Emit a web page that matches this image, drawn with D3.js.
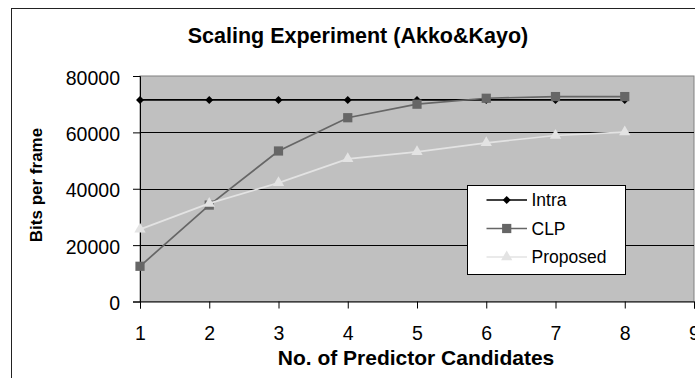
<!DOCTYPE html>
<html>
<head>
<meta charset="utf-8">
<script src="https://cdn.jsdelivr.net/npm/d3@7"></script>
<style>
  html, body { margin: 0; padding: 0; background: #fff; }
  svg { display: block; }
  text { font-family: "Liberation Sans", Arial, sans-serif; }
</style>
</head>
<body>
<svg id="chart" width="695" height="378"></svg>
<script>
// ---- data ----
const categories = [1, 2, 3, 4, 5, 6, 7, 8];
const xTicks = [1, 2, 3, 4, 5, 6, 7, 8, 9];
const yTicks = [0, 20000, 40000, 60000, 80000];
const intra = [71500, 71500, 71500, 71500, 71500, 71500, 71500, 71500];
const clp = [12500, 34200, 53400, 65200, 70000, 72100, 72700, 72700];
const proposed = [25600, 34800, 42100, 50600, 53100, 56300, 58900, 60100];
const seriesNames = ["Intra", "CLP", "Proposed"];
const titleText = "Scaling Experiment (Akko&Kayo)";
const xTitle = "No. of Predictor Candidates";
const yTitle = "Bits per frame";

const svg = d3.select("#chart");
const plot = { left: 140, right: 694, top: 76, bottom: 301.5 };

const x = d3.scaleLinear().domain([1, 9]).range([plot.left, plot.right]);
const y = d3.scaleLinear().domain([0, 80000]).range([plot.bottom, plot.top]);

// outer chart frame
svg.append("rect")
  .attr("x", 11.5).attr("y", 8.5)
  .attr("width", 800).attr("height", 500)
  .attr("fill", "#fff").attr("stroke", "#222").attr("stroke-width", 1);

// plot area background
svg.append("rect")
  .attr("x", plot.left).attr("y", plot.top)
  .attr("width", plot.right - plot.left).attr("height", plot.bottom - plot.top)
  .attr("fill", "#c0c0c0").attr("stroke", "#808080").attr("stroke-width", 1);

// gridlines
svg.append("g").selectAll("line")
  .data(yTicks.filter(d => d > 0 && d < 80000))
  .join("line")
  .attr("x1", plot.left).attr("x2", plot.right)
  .attr("y1", d => Math.round(y(d)) + 0.5).attr("y2", d => Math.round(y(d)) + 0.5)
  .attr("stroke", "#000").attr("stroke-width", 1);

// axes
const yAxis = d3.axisLeft(y).tickValues(yTicks).tickSize(7).tickPadding(13).tickFormat(d3.format("d"));
const gy = svg.append("g").attr("transform", `translate(${plot.left},0)`).call(yAxis);
gy.select(".domain").attr("stroke", "#000");
gy.selectAll(".tick line").attr("stroke", "#000");
gy.selectAll(".tick text").attr("font-size", 19.5).attr("fill", "#000")
  .attr("font-family", "Liberation Sans, Arial, sans-serif").attr("dy", "0.42em");

const xAxis = d3.axisBottom(x).tickValues(xTicks).tickSize(7).tickPadding(18).tickFormat(d3.format("d"));
const gx = svg.append("g").attr("transform", `translate(0,${plot.bottom})`).call(xAxis);
gx.select(".domain").attr("stroke", "#000");
gx.selectAll(".tick line").attr("stroke", "#000");
gx.selectAll(".tick text").attr("font-size", 19.5).attr("fill", "#000")
  .attr("font-family", "Liberation Sans, Arial, sans-serif");

// series
const series = [
  { name: seriesNames[0], values: intra, color: "#000000", marker: "diamond" },
  { name: seriesNames[1], values: clp, color: "#666666", marker: "square" },
  { name: seriesNames[2], values: proposed, color: "#e3e3e3", marker: "triangle" }
];
const symbolOf = m => m === "diamond" ? d3.symbol().type(d3.symbolDiamond2 || d3.symbolDiamond).size(40)
  : m === "square" ? d3.symbol().type(d3.symbolSquare).size(85)
  : d3.symbol().type(d3.symbolTriangle).size(55);

const line = d3.line().x((d, i) => x(categories[i])).y(d => y(d));

series.forEach(s => {
  const g = svg.append("g");
  g.append("path").attr("d", line(s.values)).attr("fill", "none")
    .attr("stroke", s.color).attr("stroke-width", 1.7);
  g.selectAll("path.m").data(s.values).join("path").attr("class", "m")
    .attr("transform", (d, i) => `translate(${x(categories[i])},${y(d)})`)
    .attr("d", symbolOf(s.marker)()).attr("fill", s.color);
});

// title
svg.append("text").attr("x", 358).attr("y", 43).attr("text-anchor", "middle")
  .attr("font-size", 21.5).attr("font-weight", "bold").text(titleText);

// axis titles
svg.append("text").attr("x", 416).attr("y", 365).attr("text-anchor", "middle")
  .attr("font-size", 21).attr("font-weight", "bold").text(xTitle);
svg.append("text").attr("transform", "translate(42,185) rotate(-90)").attr("text-anchor", "middle")
  .attr("font-size", 17).attr("font-weight", "bold").text(yTitle);

// legend
const lg = svg.append("g");
lg.append("rect").attr("x", 467.5).attr("y", 185.5).attr("width", 158).attr("height", 89)
  .attr("fill", "#fff").attr("stroke", "#000").attr("stroke-width", 1);
const rowY = [200, 228.5, 257];
series.forEach((s, i) => {
  lg.append("line").attr("x1", 486.5).attr("x2", 527).attr("y1", rowY[i]).attr("y2", rowY[i])
    .attr("stroke", s.color).attr("stroke-width", 1.7);
  lg.append("path").attr("transform", `translate(506.7,${rowY[i]})`)
    .attr("d", symbolOf(s.marker)()).attr("fill", s.color);
  lg.append("text").attr("x", 531.5).attr("y", rowY[i]).attr("dy", "0.36em")
    .attr("font-size", 17.5).text(s.name);
});
</script>
</body>
</html>
